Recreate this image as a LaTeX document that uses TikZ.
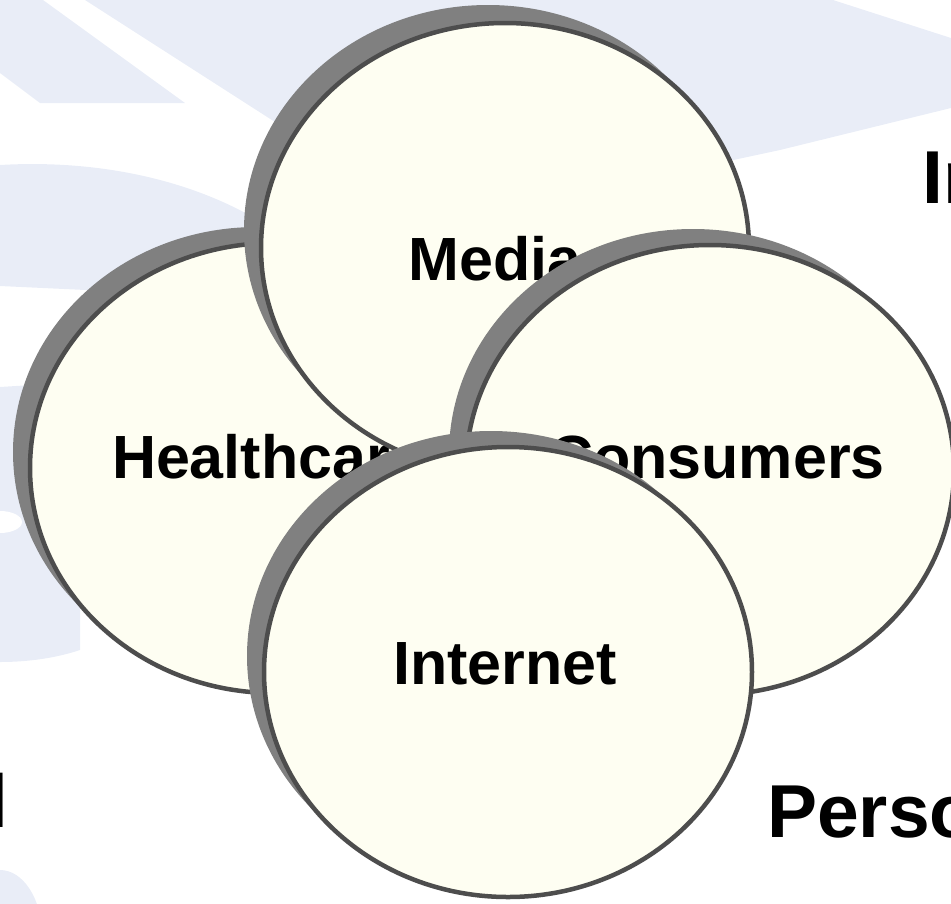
\documentclass[tikz,border=0pt]{standalone}
\usepackage{fontspec}
\setmainfont{Liberation Sans}
\usetikzlibrary{shapes.geometric}

\definecolor{marfil}{RGB}{254,254,242}
\definecolor{bordegris}{RGB}{77,77,77}
\definecolor{sombragris}{RGB}{128,128,128}
\definecolor{fondoazul}{RGB}{233,237,247}

\tikzset{
  burbuja/.style={ellipse, draw=bordegris, line width=4.5pt, fill=marfil,
    minimum width=488pt, minimum height=450pt, inner sep=0pt},
  sombra/.style={ellipse, fill=sombragris,
    minimum width=488pt, minimum height=450pt, inner sep=0pt},
  etiqueta/.style={font=\fontsize{61}{70}\selectfont\bfseries, inner sep=0pt, anchor=base},
  grande/.style={font=\fontsize{75}{86}\selectfont\bfseries, inner sep=0pt, anchor=base west},
  marca/.style={fill=fondoazul}
}

\begin{document}
\begin{tikzpicture}[x=1pt, y=-1pt]
        \useasboundingbox (0,0) rectangle (951,903);
        \clip (0,0) rectangle (951,903);

        % Fondo (marca de agua)
        \fill[marca] (0,0) -- (43,0) -- (185,103) -- (40,103) -- (0,73) -- cycle;
        \fill[marca] (85,0) -- (833,0) -- (951,38) -- (951,108) -- (780,150) -- (500,210) -- (275,122) -- cycle;
        \fill[marca] (0,165) .. controls (120,158) and (230,190) .. (300,250) -- (300,300) -- (0,286) -- cycle;
        \fill[marca] (0,387) -- (80,382) -- (80,650) .. controls (50,660) and (20,662) .. (0,662) -- cycle;
        \fill[white] (0,522) ellipse (22 and 11);
        \fill[marca] (0,935) ellipse (42 and 65);

        % Healthcare
        \node[sombra] (healthsombra) at (257,452) {};
        \node[burbuja] (health) at (274,468) {};
        \node[etiqueta] (healthtxt) at (268,478) {Healthcare};

        % Media
        \node[sombra] (mediasombra) at (488,230) {};
        \node[burbuja] (media) at (505,248) {};
        \node[etiqueta] (mediatxt) at (495,280) {Media};

        % Consumers
        \node[sombra] (conssombra) at (693,454) {};
        \node[burbuja] (cons) at (710,470) {};
        \node[etiqueta] (constxt) at (717,478) {Consumers};

        % Internet
        \node[sombra] (netsombra) at (491,656) {};
        \node[burbuja] (net) at (508,672) {};
        \node[etiqueta] (nettxt) at (505,684) {Internet};

        % Textos cortados en los bordes
        \node[grande] (infotxt) at (922,203) {In};
        \node[grande] (persotxt) at (767,837) {Perso};
        \node[grande] (ltxt) at (-13,827) {l};
    \end{tikzpicture}
\end{document}
